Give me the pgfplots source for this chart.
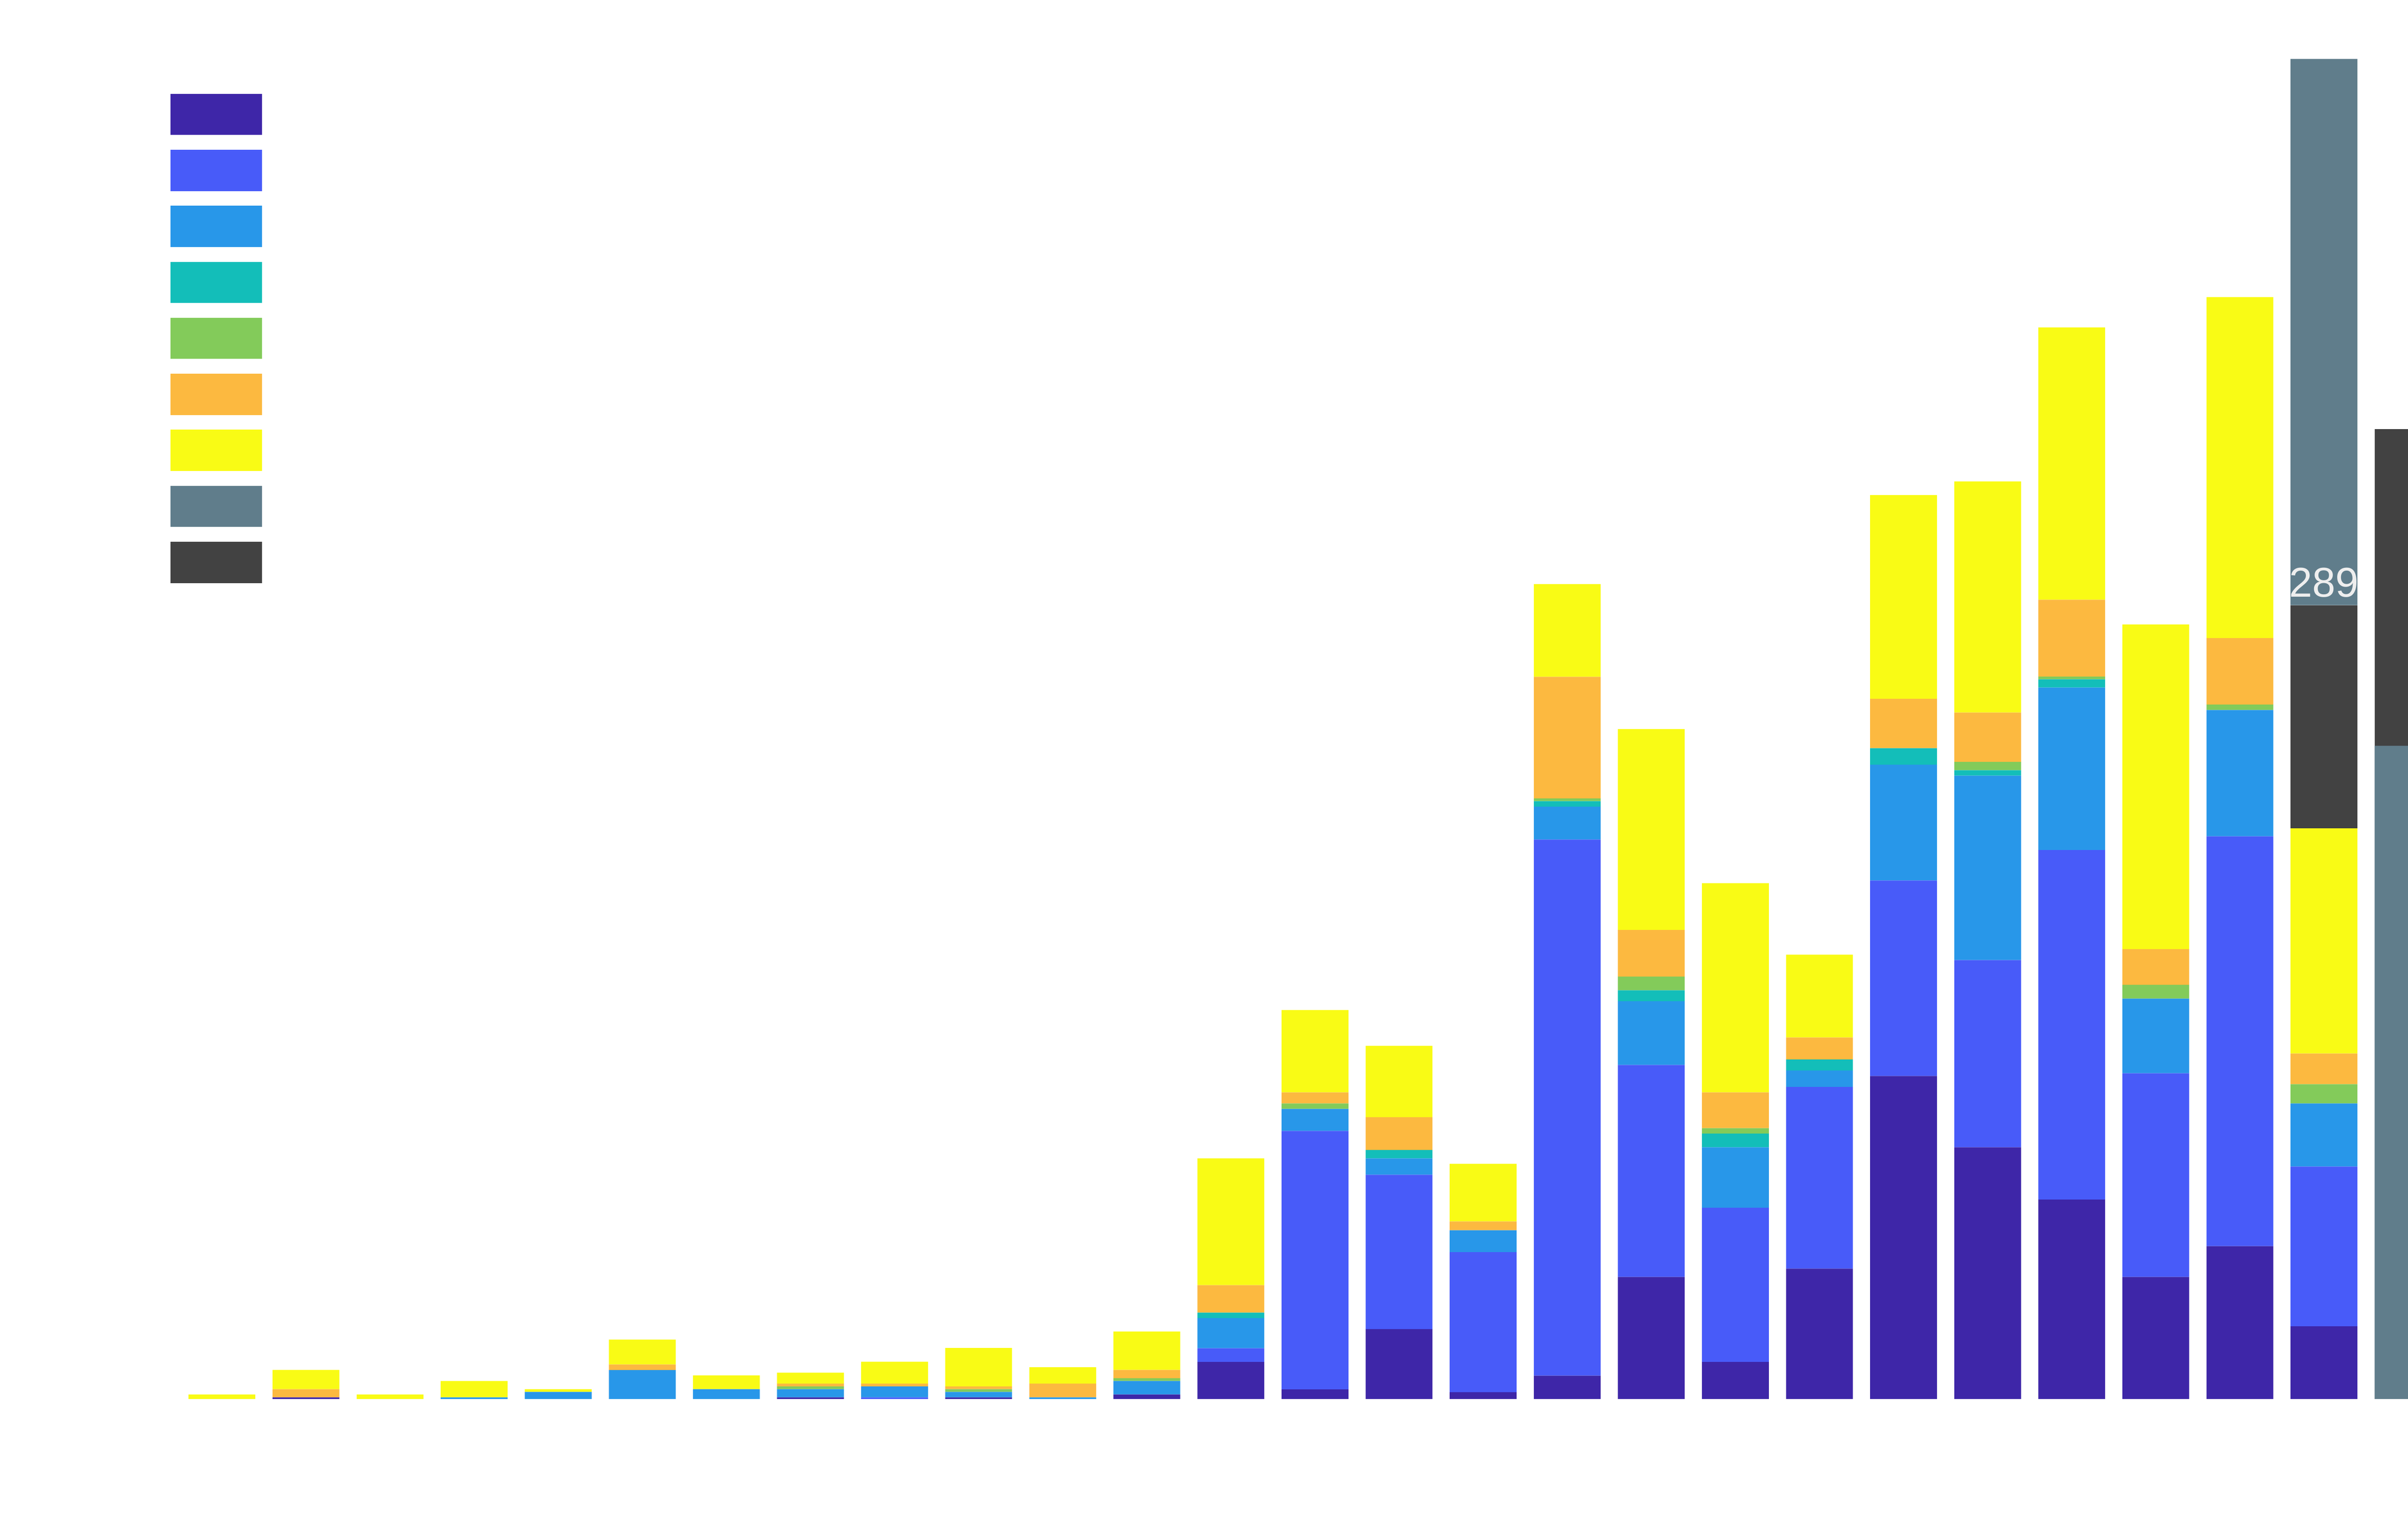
\documentclass[border=0pt]{standalone}
\usepackage{fontspec}
\setmainfont{Liberation Sans}
\usepackage{pgfplots}
\usepackage{pgfplotstable}
\pgfplotsset{compat=1.18}
\definecolor{cP}{HTML}{3E26A8}
\definecolor{cB}{HTML}{485BF9}
\definecolor{cLB}{HTML}{2897E9}
\definecolor{cT}{HTML}{13BEB9}
\definecolor{cG}{HTML}{83CB5A}
\definecolor{cO}{HTML}{FCB940}
\definecolor{cY}{HTML}{F9FB15}
\definecolor{cS}{HTML}{607D8B}
\definecolor{cD}{HTML}{424242}
\definecolor{lbl}{HTML}{EEEEEE}
\pgfplotsset{sw/.style={legend image code/.code={\fill[##1] (0pt,-4.5pt) rectangle (20pt,4.5pt);}}}
\pgfplotstableread{
x P B LB T G O Y D1 S D
0 0 0 0 0 0 0 1.67 0 0 0
1 0.61 0 0 0 0 3 7 0 0 0
2 0 0 0 0 0 0 1.67 0 0 0
3 0 0 0.61 0 0 0 6 0 0 0
4 0 0 2.6 0 0 0 1 0 0 0
5 0 0 10.6 0 0 2 9.06 0 0 0
6 0 0 3.6 0 0 0 5 0 0 0
7 0.61 0 3 0 1 1 4 0 0 0
8 0 0.61 4 0 0 1 8 0 0 0
9 0.61 0 2 0 1 1 14 0 0 0
10 0 0 0.61 0 0 5 6 0 0 0
11 1.67 0 4.94 0 1 3 14 0 0 0
12 13.5 5 11 2 0 10 46.2 0 0 0
13 3.5 94.2 8 0 2 4 30 0 0 0
14 25.5 56.2 6 3 0 12 26 0 0 0
15 2.5 51 8 0 0 3.2 21 0 0 0
16 8.5 195.3 12 2 1 44.3 33.8 0 0 0
17 44.5 77.2 23.2 4 5 17 73.2 0 0 0
18 13.5 56.2 22 5 2 13 76.2 0 0 0
19 47.5 66.2 6 4 0 8 30.2 0 0 0
20 117.7 71.2 42.2 6 0 18 74.2 0 0 0
21 91.7 68.2 67.2 2 3 18 84.2 0 0 0
22 72.7 127.3 59.2 3 1 28 99.2 0 0 0
23 44.5 74.2 27.2 0 5 13 118.3 0 0 0
24 55.7 149.3 46 0 2 24.2 124.2 0 0 0
25 26.5 58.2 23 0 7 11.2 82 81.3 199 0
26 0 0 0 0 0 0 0 0 238 115.3
}\data
\begin{document}
\begin{tikzpicture}
\useasboundingbox (0,0) rectangle (526.3pt,331.3pt);
\begin{axis}[
  at={(0,0)}, anchor=south west,
  scale only axis, width=526.3pt, height=331.3pt,
  hide axis,
  ybar stacked, bar width=0.795,
  xmin=-2.639, xmax=26,
  ymin=-42.5, ymax=509.67,
  legend style={at={(0.07087,0.93812)}, anchor=north west, draw=none, fill=none,
    inner sep=0pt, outer sep=0pt, row sep=3.24pt, nodes={inner sep=0pt}},
]
\addplot[fill=cP, draw=none, sw] table[x=x,y=P]{\data}; \addlegendentry{}
\addplot[fill=cB, draw=none, sw] table[x=x,y=B]{\data}; \addlegendentry{}
\addplot[fill=cLB, draw=none, sw] table[x=x,y=LB]{\data}; \addlegendentry{}
\addplot[fill=cT, draw=none, sw] table[x=x,y=T]{\data}; \addlegendentry{}
\addplot[fill=cG, draw=none, sw] table[x=x,y=G]{\data}; \addlegendentry{}
\addplot[fill=cO, draw=none, sw] table[x=x,y=O]{\data}; \addlegendentry{}
\addplot[fill=cY, draw=none, sw] table[x=x,y=Y]{\data}; \addlegendentry{}
\addplot[fill=cD, draw=none, forget plot] table[x=x,y=D1]{\data};
\addplot[fill=cS, draw=none, sw] table[x=x,y=S]{\data}; \addlegendentry{}
\addplot[fill=cD, draw=none, sw] table[x=x,y=D]{\data}; \addlegendentry{}
\coordinate (lab) at (axis cs:25,292.2);
\end{axis}
\node[anchor=base, inner sep=0pt, text=lbl, font=\fontsize{9.1}{10}\selectfont] at (lab) {289};
\end{tikzpicture}
\end{document}
